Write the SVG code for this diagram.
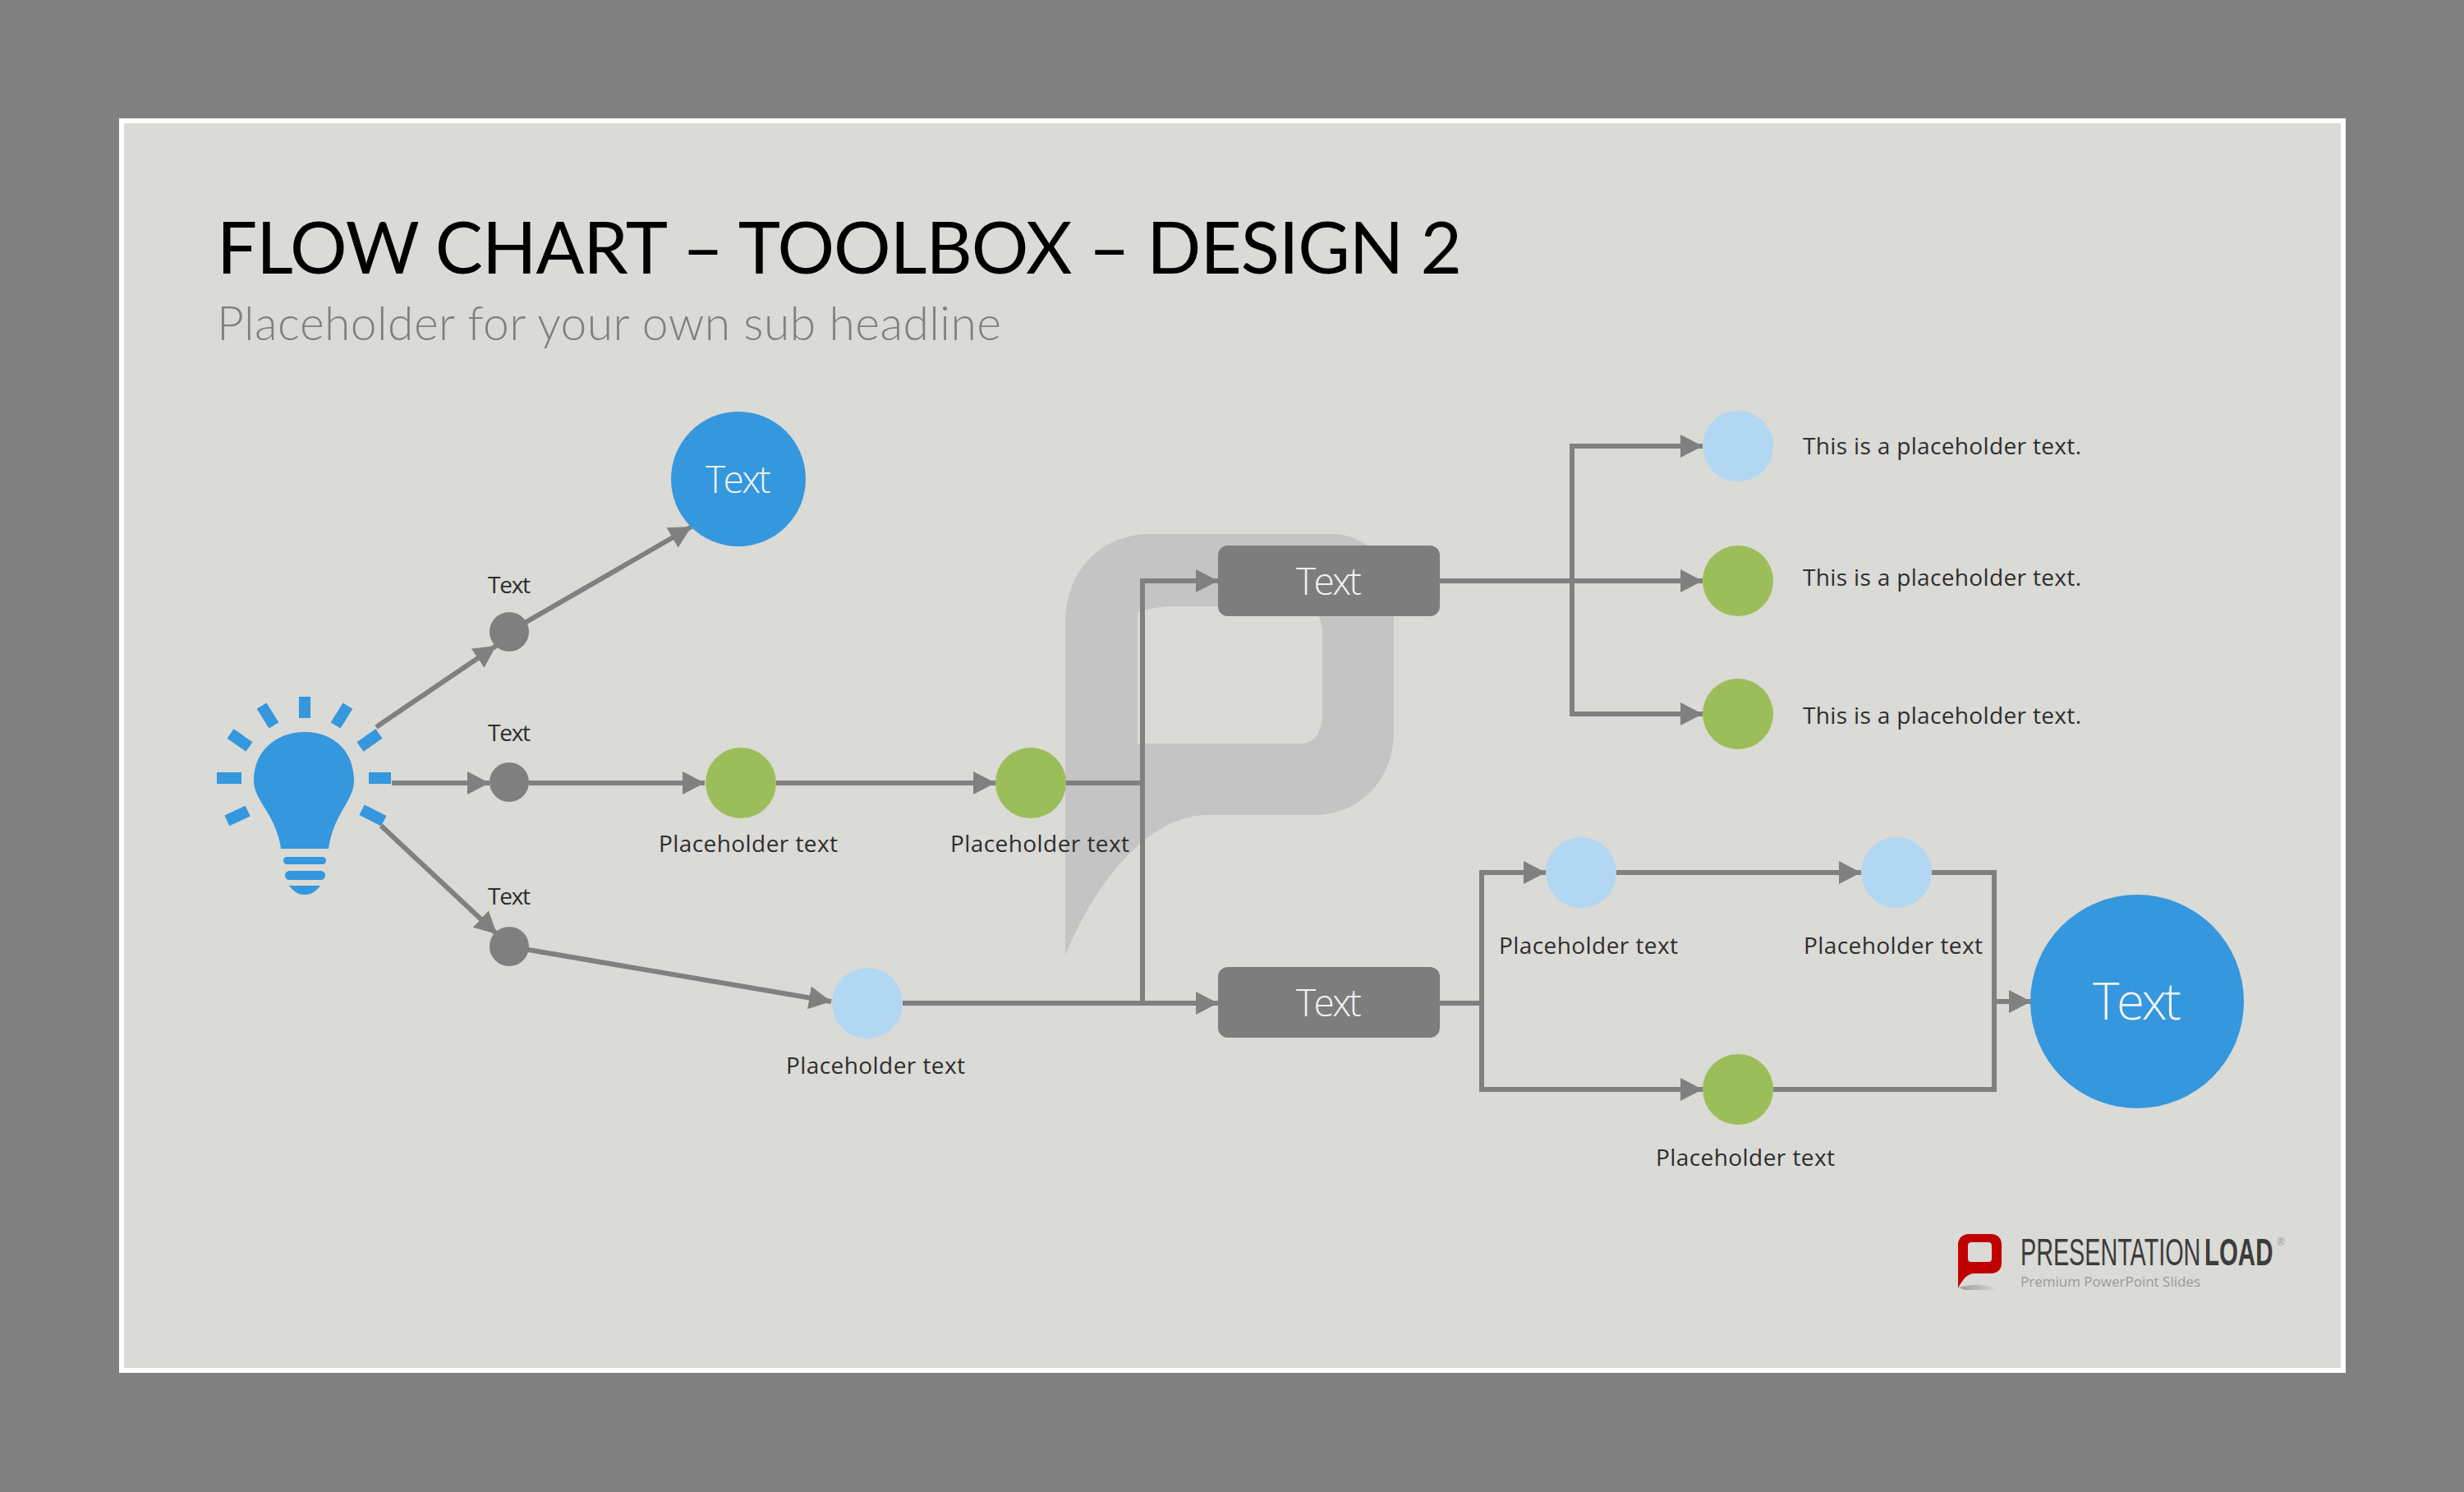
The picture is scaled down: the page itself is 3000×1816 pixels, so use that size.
<svg xmlns="http://www.w3.org/2000/svg" width="3000" height="1816" viewBox="0 0 3000 1816">
<style>
.c{fill:none;stroke:#808080;stroke-width:6}
.a{marker-end:url(#ah)}
.blue{fill:#3597dd}.green{fill:#9cbe5a}.light{fill:#b2d7f3}.dot{fill:#7f7f7f}.box{fill:#7d7d7d}
text{font-family:"Open Sans","Liberation Sans",sans-serif}
.lab{font-size:28px;fill:#2e2e2e;text-anchor:middle}
.side{font-size:28px;fill:#2e2e2e}
.w{fill:#f2f2f2;text-anchor:middle;font-size:46px;font-weight:300}
</style>
<defs>
<marker id="ah" markerUnits="userSpaceOnUse" markerWidth="28" markerHeight="28" refX="27" refY="14" orient="auto"><path d="M0 0L27 14L0 28Z" fill="#808080"/></marker>
<linearGradient id="sh" x1="0" x2="1"><stop offset="0" stop-color="#999"/><stop offset="1" stop-color="#dadad6"/></linearGradient>
</defs>
<rect width="3000" height="1816" fill="#808080"/>
<rect x="148" y="147" width="2705" height="1521" fill="#dadad6" stroke="#fff" stroke-width="6"/>
<text x="264" y="333" font-size="87" fill="#000" textLength="1516" style="font-family:Lato,'Open Sans',sans-serif" id="title">FLOW CHART – TOOLBOX – DESIGN 2</text>
<text x="264" y="414" font-size="57" fill="#808080" textLength="955" style="font-family:Lato,'Open Sans',sans-serif;font-weight:300" id="sub">Placeholder for your own sub headline</text>
<path id="watermark" fill="#c4c4c4" fill-rule="evenodd" d="M1297 1163V760C1297 690 1345 650 1400 650H1620C1670 650 1697 690 1697 740V890C1697 950 1655 992 1600 992H1470C1400 992 1335 1070 1297 1163ZM1385 745V905H1585C1600 905 1610 890 1610 870V770C1610 750 1600 738 1585 738H1430C1410 738 1395 742 1385 745Z"/>
<g id="connectors">
<path class="c a" d="M458 885L604 786"/>
<path class="c a" d="M620 769L842 641"/>
<path class="c a" d="M477 953L596 953"/>
<path class="c a" d="M464 1005L605 1137"/>
<path class="c a" d="M644 953H858"/>
<path class="c a" d="M945 953H1212"/>
<path class="c a" d="M620 1152L1012 1219"/>
<path class="c" d="M1298 953H1391"/>
<path class="c a" d="M1391 1221V707H1483"/>
<path class="c a" d="M1099 1221H1483"/>
<path class="c a" d="M1753 707H2073"/>
<path class="c a" d="M1914 707V543H2073"/>
<path class="c a" d="M1914 707V869H2073"/>
<path class="c" d="M1753 1221H1804"/>
<path class="c a" d="M1804 1221V1062H1882"/>
<path class="c a" d="M1804 1221V1326H2073"/>
<path class="c a" d="M1968 1062H2266"/>
<path class="c" d="M2352 1062H2428V1326H2159"/>
<path class="c a" d="M2428 1219H2473"/>
</g>
<g id="bulb" class="blue">
<path d="M342 1033C336 990 309 975 309 950C309 915 335 891 371 891C407 891 431 915 431 950C431 975 406 990 400 1033Z"/>
<rect x="345" y="1043" width="52" height="9" rx="4.5"/>
<rect x="347" y="1060" width="49" height="11" rx="5.5"/>
<path d="M352 1078H390C384 1086 378 1089 371 1089C364 1089 358 1086 352 1078Z"/>
<rect x="264" y="940" width="30" height="14"/>
<rect x="449" y="940" width="27" height="14"/>
<rect x="364" y="848" width="14" height="26"/>
<rect x="-14" y="-7" width="28" height="14" transform="translate(292 901) rotate(35)"/>
<rect x="-14" y="-7" width="28" height="14" transform="translate(326 871) rotate(58)"/>
<rect x="-14" y="-7" width="28" height="14" transform="translate(416 871) rotate(-58)"/>
<rect x="-14" y="-7" width="28" height="14" transform="translate(450 901) rotate(-35)"/>
<rect x="-14" y="-7" width="28" height="14" transform="translate(289 993) rotate(-25)"/>
<rect x="-14" y="-7" width="30" height="14" transform="translate(453 992) rotate(27)"/>
</g>
<g id="n-top"><circle class="blue" cx="899" cy="583" r="82"/><text class="w" x="899" y="600" textLength="80">Text</text></g>
<g id="d1"><circle class="dot" cx="620" cy="769" r="24"/><text class="lab" x="620" y="722" textLength="52">Text</text></g>
<g id="d2"><circle class="dot" cx="620" cy="952" r="24"/><text class="lab" x="620" y="902" textLength="52">Text</text></g>
<g id="d3"><circle class="dot" cx="620" cy="1152" r="24"/><text class="lab" x="620" y="1101" textLength="52">Text</text></g>
<g id="g1"><circle class="green" cx="902" cy="953" r="43"/><text class="lab" x="911" y="1037" textLength="218">Placeholder text</text></g>
<g id="g2"><circle class="green" cx="1255" cy="953" r="43"/><text class="lab" x="1266" y="1037" textLength="218">Placeholder text</text></g>
<g id="l1"><circle class="light" cx="1056" cy="1221" r="43"/><text class="lab" x="1066" y="1307" textLength="218">Placeholder text</text></g>
<g id="box1"><rect class="box" x="1483" y="664" width="270" height="86" rx="12"/><text class="w" x="1618" y="724" textLength="80">Text</text></g>
<g id="box2"><rect class="box" x="1483" y="1177" width="270" height="86" rx="12"/><text class="w" x="1618" y="1237" textLength="80">Text</text></g>
<g id="s1"><circle class="light" cx="2116" cy="543" r="43"/><text class="side" x="2195" y="553" textLength="339">This is a placeholder text.</text></g>
<g id="s2"><circle class="green" cx="2116" cy="707" r="43"/><text class="side" x="2195" y="713" textLength="339">This is a placeholder text.</text></g>
<g id="s3"><circle class="green" cx="2116" cy="869" r="43"/><text class="side" x="2195" y="881" textLength="339">This is a placeholder text.</text></g>
<g id="l2"><circle class="light" cx="1925" cy="1062" r="43"/><text class="lab" x="1934" y="1161" textLength="218">Placeholder text</text></g>
<g id="l3"><circle class="light" cx="2309" cy="1062" r="43"/><text class="lab" x="2305" y="1161" textLength="218">Placeholder text</text></g>
<g id="g3"><circle class="green" cx="2116" cy="1326" r="43"/><text class="lab" x="2125" y="1419" textLength="218">Placeholder text</text></g>
<g id="big"><circle class="blue" cx="2602" cy="1219" r="130"/><text class="w" x="2602" y="1241" textLength="108" style="font-size:62px">Text</text></g>
<g id="logo">
<path d="M2392 1570H2432L2430 1568C2415 1562 2400 1563 2385 1567Z" fill="url(#sh)"/>
<path fill="#c00000" fill-rule="evenodd" d="M2384 1515C2384 1507 2390 1502 2397 1502H2424C2432 1502 2437 1507 2437 1515V1537C2437 1545 2432 1550 2424 1550H2404C2395 1550 2389 1558 2384 1568ZM2396 1516V1532C2396 1535 2398 1536 2400 1536H2421C2423 1536 2425 1535 2425 1532V1516C2425 1513 2423 1512 2421 1512H2400C2398 1512 2396 1513 2396 1516Z"/>
<text font-size="46" fill="#3c3c3c" transform="translate(2460 1540) scale(.625 1)" style="font-family:'Liberation Sans',sans-serif">PRESENTATION</text>
<text font-size="46" font-weight="700" fill="#3c3c3c" transform="translate(2684 1540) scale(.64 1)" style="font-family:'Liberation Sans',sans-serif">LOAD</text>
<text x="2772" y="1516" font-size="12" fill="#999">®</text>
<text x="2460" y="1566" font-size="17" fill="#9a9a9a" textLength="219">Premium PowerPoint Slides</text>
</g>
</svg>
